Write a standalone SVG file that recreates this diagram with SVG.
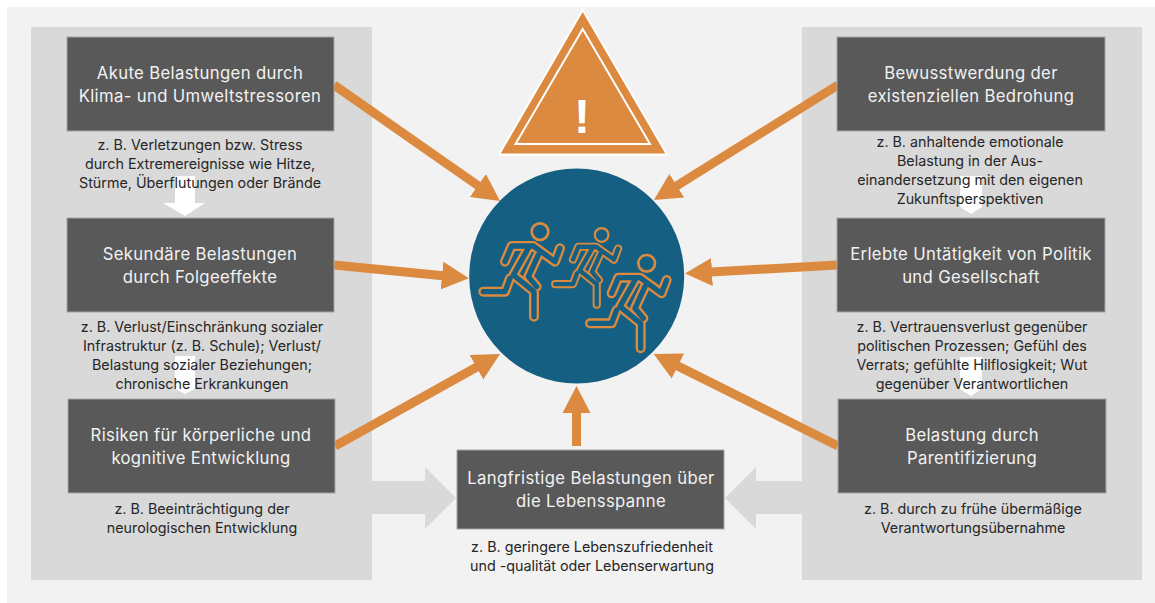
<svg xmlns="http://www.w3.org/2000/svg" width="1155" height="603" viewBox="0 0 1155 603">
<style>
text{font-family:"Inter","Noto Sans","Liberation Sans",sans-serif;text-anchor:middle}
.box{fill:#595959;stroke:#a6a6a6;stroke-width:1}
.h{font-size:16.7px;fill:#f2f2f2;letter-spacing:.35px}
.b{font-size:14.3px;fill:#262626}
.panel{fill:#d9d9d9}
.or{fill:#db8a40}
.ln{stroke:#db8a40;stroke-width:9;fill:none}
.wh{fill:#fff}
</style>
<defs>
<marker id="ah" markerUnits="userSpaceOnUse" markerWidth="30" markerHeight="34" refX="1" refY="14" orient="auto" viewBox="0 0 30 28"><path d="M0,0L27,14L0,28z" fill="#db8a40"/></marker>
<g id="rO" fill="none" stroke-linejoin="round" stroke-linecap="round"><path d="M135,785L155,738H220L285,785L300,745M205,745L160,825L222,875V950M150,835L135,875H70M235,765L205,830L230,860"/></g>
<g id="runner">
<use href="#rO" stroke="#db8a40" stroke-width="30"/>
<use href="#rO" stroke="#156082" stroke-width="16"/>
<circle cx="240" cy="695" r="25" fill="none" stroke="#db8a40" stroke-width="8"/>
</g>
</defs>
<rect width="1155" height="603" fill="#fff"/>
<rect x="7" y="7" width="1148" height="596" fill="#f2f2f2"/>
<g id="panels">
<rect class="panel" x="31" y="27" width="341" height="553"/>
<rect class="panel" x="802" y="27" width="340" height="553"/>
<path class="panel" d="M372,481H425V467L456,498L425,529V514H372z"/>
<path class="panel" d="M802,481H756V467L725,498L756,529V514H802z"/>
</g>
<g id="white-arrows">
<path class="wh" d="M175,176H195V203H205L185,216L163,203H175z"/>
<path class="wh" d="M175,356H195V389L185,394L175,389z"/>
<path class="wh" d="M960,176H982V207L971,214L960,207z"/>
<path class="wh" d="M960,357H982V389L971,396L960,389z"/>
</g>
<g id="connectors">
<path class="ln" marker-end="url(#ah)" d="M334,85L478.7,186.1"/>
<path class="ln" marker-end="url(#ah)" d="M334,265L443,275.7"/>
<path class="ln" marker-end="url(#ah)" d="M335,446L477.3,366.7"/>
<path class="ln" marker-end="url(#ah)" d="M838,85L676,186.2"/>
<path class="ln" marker-end="url(#ah)" d="M837,265L711,272"/>
<path class="ln" marker-end="url(#ah)" d="M838,446L677,365.6"/>
<path class="ln" marker-end="url(#ah)" d="M576.5,446V412"/>
</g>
<g id="warning">
<path class="or" stroke="#fff" stroke-width="2" d="M582.7,10L667,154.5H499z"/>
<path fill="none" stroke="#fff" stroke-width="2" d="M582.7,29L650,144H515.5z"/>
<text x="582" y="133" font-size="48" font-weight="700" fill="#fff" style="font-family:'Liberation Sans',sans-serif">!</text>
</g>
<g id="center">
<circle cx="576.7" cy="276" r="107.5" fill="#156082"/>
<g transform="translate(460,0) scale(.3333)">
<use href="#runner"/>
<use href="#runner" transform="translate(228.2,135.1) scale(.82)"/>
<use href="#runner" transform="translate(320,95)"/>
</g>
</g>
<g id="n1"><rect class="box" x="67" y="37" width="267" height="94"/>
<text class="h" x="200" y="79">Akute Belastungen durch</text><text class="h" x="200" y="102">Klima- und Umweltstressoren</text></g>
<g id="n1t"><text class="b" x="200" y="150">z. B. Verletzungen bzw. Stress</text><text class="b" x="200" y="169">durch Extremereignisse wie Hitze,</text><text class="b" x="200" y="188">Stürme, Überflutungen oder Brände</text></g>
<g id="n2"><rect class="box" x="67" y="218" width="267" height="94"/>
<text class="h" x="200" y="260">Sekundäre Belastungen</text><text class="h" x="200" y="283">durch Folgeeffekte</text></g>
<g id="n2t"><text class="b" x="202" y="332">z. B. Verlust/Einschränkung sozialer</text><text class="b" x="202" y="351">Infrastruktur (z. B. Schule); Verlust/</text><text class="b" x="202" y="370">Belastung sozialer Beziehungen;</text><text class="b" x="202" y="389">chronische Erkrankungen</text></g>
<g id="n3"><rect class="box" x="68" y="399" width="267" height="94"/>
<text class="h" x="201" y="441">Risiken für körperliche und</text><text class="h" x="201" y="464">kognitive Entwicklung</text></g>
<g id="n3t"><text class="b" x="202" y="514">z. B. Beeinträchtigung der</text><text class="b" x="202" y="533">neurologischen Entwicklung</text></g>
<g id="n4"><rect class="box" x="837" y="37" width="268" height="94"/>
<text class="h" x="971" y="79">Bewusstwerdung der</text><text class="h" x="971" y="102">existenziellen Bedrohung</text></g>
<g id="n4t"><text class="b" x="970" y="147">z. B. anhaltende emotionale</text><text class="b" x="970" y="166">Belastung in der Aus-</text><text class="b" x="970" y="185">einandersetzung mit den eigenen</text><text class="b" x="970" y="204">Zukunftsperspektiven</text></g>
<g id="n5"><rect class="box" x="837" y="218" width="268" height="94"/>
<text class="h" x="971" y="260">Erlebte Untätigkeit von Politik</text><text class="h" x="971" y="283">und Gesellschaft</text></g>
<g id="n5t"><text class="b" x="972" y="332">z. B. Vertrauensverlust gegenüber</text><text class="b" x="972" y="351">politischen Prozessen; Gefühl des</text><text class="b" x="972" y="370">Verrats; gefühlte Hilflosigkeit; Wut</text><text class="b" x="972" y="389">gegenüber Verantwortlichen</text></g>
<g id="n6"><rect class="box" x="838" y="399" width="268" height="94"/>
<text class="h" x="972" y="441">Belastung durch</text><text class="h" x="972" y="464">Parentifizierung</text></g>
<g id="n6t"><text class="b" x="973" y="514">z. B. durch zu frühe übermäßige</text><text class="b" x="973" y="533">Verantwortungsübernahme</text></g>
<g id="n7"><rect class="box" x="457" y="450" width="267" height="79"/>
<text class="h" x="591" y="484">Langfristige Belastungen über</text><text class="h" x="591" y="507">die Lebensspanne</text></g>
<g id="n7t"><text class="b" x="592" y="552">z. B. geringere Lebenszufriedenheit</text><text class="b" x="592" y="571">und -qualität oder Lebenserwartung</text></g>
</svg>
